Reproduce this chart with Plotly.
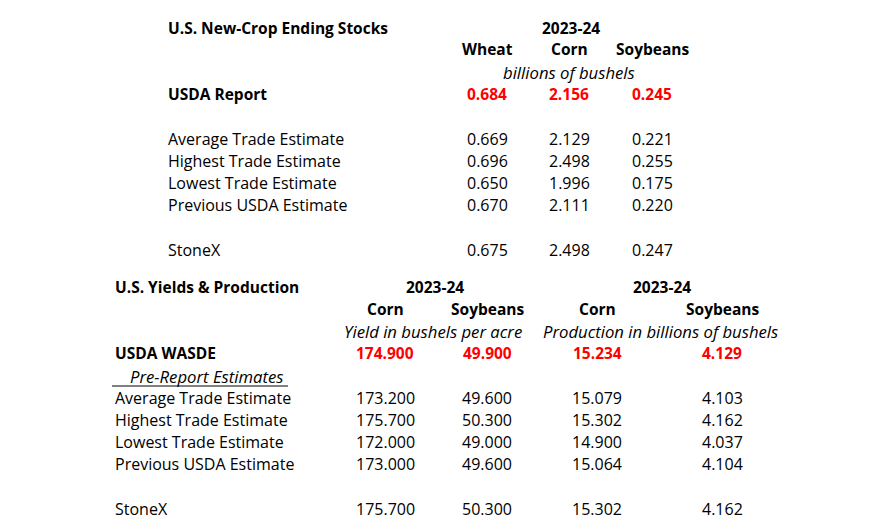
import plotly.graph_objects as go

# Ending stocks table (billions of bushels)
stocks_title = "U.S. New-Crop Ending Stocks"
stocks_year = "2023-24"
stocks_crops = ["Wheat", "Corn", "Soybeans"]
stocks_unit = "billions of bushels"
stocks_report_label = "USDA Report"
stocks_report = ["0.684", "2.156", "0.245"]
stocks_labels = ["Average Trade Estimate", "Highest Trade Estimate",
                 "Lowest Trade Estimate", "Previous USDA Estimate", "StoneX"]
stocks_values = [
    ["0.669", "2.129", "0.221"],
    ["0.696", "2.498", "0.255"],
    ["0.650", "1.996", "0.175"],
    ["0.670", "2.111", "0.220"],
    ["0.675", "2.498", "0.247"],
]

# Yields & production table
yp_title = "U.S. Yields & Production"
yp_years = ["2023-24", "2023-24"]
yp_crops = ["Corn", "Soybeans", "Corn", "Soybeans"]
yp_units = ["Yield in bushels per acre", "Production in billions of bushels"]
yp_report_label = "USDA WASDE"
yp_report = ["174.900", "49.900", "15.234", "4.129"]
yp_sub = "Pre-Report Estimates"
yp_labels = ["Average Trade Estimate", "Highest Trade Estimate",
             "Lowest Trade Estimate", "Previous USDA Estimate", "StoneX"]
yp_values = [
    ["173.200", "49.600", "15.079", "4.103"],
    ["175.700", "50.300", "15.302", "4.162"],
    ["172.000", "49.000", "14.900", "4.037"],
    ["173.000", "49.600", "15.064", "4.104"],
    ["175.700", "50.300", "15.302", "4.162"],
]

FONT = "Open Sans"
RED = "#ff0000"

fig = go.Figure()
ann = []

def cell(x, y, text, anchor="center", color="black", bold=False, italic=False):
    size = 16
    if bold:
        text = "<b>" + text + "</b>"
        size = 15.5
    if italic:
        text = "<i>" + text + "</i>"
        size = 16.7
    ann.append(dict(x=x, y=y, xref="x", yref="y", text=text, showarrow=False,
                    xanchor=anchor, yanchor="middle",
                    font=dict(family=FONT, size=size, color=color)))

# --- top table ---
top_x = [487, 569, 652]
top_label_x = 166
cell(top_label_x, 28, stocks_title, "left", bold=True)
cell(571, 28, stocks_year, bold=True)
for x, c in zip(top_x, stocks_crops):
    cell(x, 49, c, bold=True)
cell(569, 72, stocks_unit, italic=True)
cell(top_label_x, 94, stocks_report_label, "left", bold=True)
for x, v in zip(top_x, stocks_report):
    cell(x, 94, v, color=RED, bold=True)
top_rows = [139, 161, 183, 205, 250]
for y, lab, vals in zip(top_rows, stocks_labels, stocks_values):
    cell(top_label_x, y, lab, "left")
    for x, v in zip(top_x, vals):
        cell(x, y, v)

# --- bottom table ---
bot_x = [385, 487, 597, 722]
bot_label_x = 113
cell(bot_label_x, 287, yp_title, "left", bold=True)
cell(435, 287, yp_years[0], bold=True)
cell(662, 287, yp_years[1], bold=True)
for x, c in zip(bot_x, yp_crops):
    cell(x, 309, c, bold=True)
cell(433, 331, yp_units[0], italic=True)
cell(660, 331, yp_units[1], italic=True)
cell(bot_label_x, 353, yp_report_label, "left", bold=True)
for x, v in zip(bot_x, yp_report):
    cell(x, 353, v, color=RED, bold=True)
cell(128, 376, yp_sub, "left", italic=True)
fig.add_shape(type="line", x0=112, x1=288, y0=386, y1=386, xref="x", yref="y",
              line=dict(color="black", width=1))
bot_rows = [398, 420, 442, 464, 509]
for y, lab, vals in zip(bot_rows, yp_labels, yp_values):
    cell(bot_label_x, y, lab, "left")
    for x, v in zip(bot_x, vals):
        cell(x, y, v)

fig.update_layout(
    width=886, height=520,
    margin=dict(l=0, r=0, t=0, b=0),
    paper_bgcolor="white", plot_bgcolor="white",
    xaxis=dict(range=[0, 886], visible=False, fixedrange=True),
    yaxis=dict(range=[520, 0], visible=False, fixedrange=True),
    annotations=ann,
    showlegend=False,
)

# drop the page's default body margin so the figure sits at the window corner
fig.write_html("out.html", config={"displayModeBar": False},
               post_script="document.body.style.margin='0';")
